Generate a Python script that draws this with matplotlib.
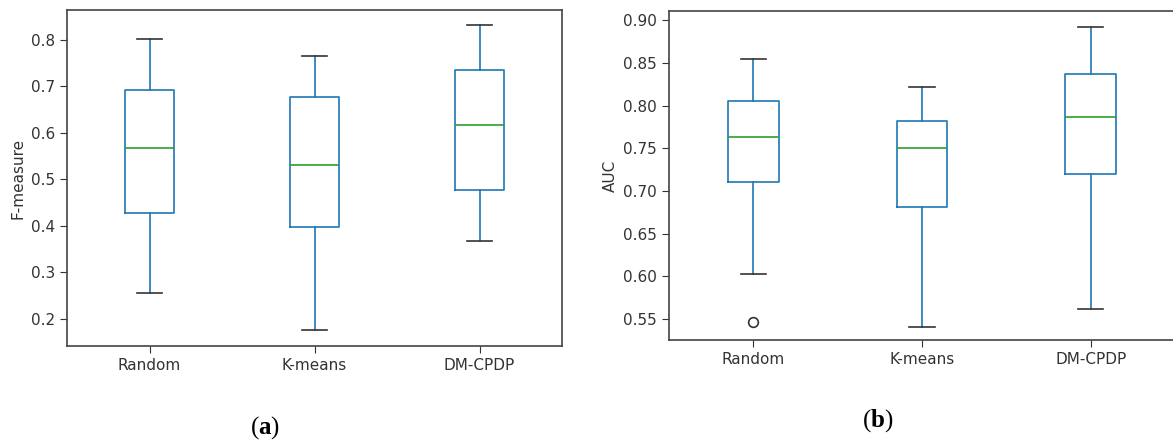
import matplotlib
matplotlib.use("Agg")
import matplotlib.pyplot as plt

plt.rcParams["mathtext.fontset"] = "custom"
plt.rcParams["mathtext.rm"] = "Liberation Serif"
plt.rcParams["mathtext.bf"] = "Liberation Serif:bold"

categories = ["Random", "K-means", "DM-CPDP"]

# F-measure box stats: whislo, q1, med, q3, whishi
f_whislo = [0.255, 0.176, 0.367]
f_q1 = [0.427, 0.397, 0.477]
f_med = [0.567, 0.530, 0.617]
f_q3 = [0.692, 0.676, 0.735]
f_whishi = [0.802, 0.765, 0.832]
f_fliers = [[], [], []]

# AUC box stats
a_whislo = [0.603, 0.541, 0.562]
a_q1 = [0.711, 0.681, 0.720]
a_med = [0.763, 0.750, 0.787]
a_q3 = [0.805, 0.782, 0.837]
a_whishi = [0.855, 0.822, 0.892]
a_fliers = [[0.547], [], []]

W, H = 1173, 444
fig = plt.figure(figsize=(W / 100, H / 100), dpi=100)

def make_stats(lo, q1, med, q3, hi, fl):
    return [dict(label=c, whislo=lo[i], q1=q1[i], med=med[i], q3=q3[i],
                 whishi=hi[i], fliers=fl[i]) for i, c in enumerate(categories)]

def draw(ax, stats):
    ax.bxp(stats, widths=0.3, showfliers=True,
           boxprops=dict(color="#1f77b4", linewidth=1.2),
           whiskerprops=dict(color="#1f77b4", linewidth=1.2),
           capprops=dict(color="#333333", linewidth=1.2),
           medianprops=dict(color="#2ca02c", linewidth=1.2),
           flierprops=dict(marker="o", markerfacecolor="none",
                           markeredgecolor="#333333", markersize=7, markeredgewidth=1.2))
    for s in ax.spines.values():
        s.set_color("#444444")
        s.set_linewidth(1.2)
    ax.tick_params(labelsize=11, colors="#333333", length=5)

def add_axes(x0, y0, x1, y1):
    return fig.add_axes([x0 / W, 1 - y1 / H, (x1 - x0) / W, (y1 - y0) / H])

ax1 = add_axes(67, 10, 562, 346)
draw(ax1, make_stats(f_whislo, f_q1, f_med, f_q3, f_whishi, f_fliers))
ax1.set_ylim(0.142, 0.864)
ax1.set_yticks([0.2, 0.3, 0.4, 0.5, 0.6, 0.7, 0.8])
ax1.set_ylabel("F-measure", fontsize=11, color="#333333")

ax2 = add_axes(669, 11, 1175, 340)
draw(ax2, make_stats(a_whislo, a_q1, a_med, a_q3, a_whishi, a_fliers))
ax2.set_ylim(0.5255, 0.911)
ax2.set_yticks([0.55, 0.60, 0.65, 0.70, 0.75, 0.80, 0.85, 0.90])
ax2.set_yticklabels(["0.55", "0.60", "0.65", "0.70", "0.75", "0.80", "0.85", "0.90"])
ax2.set_ylabel("AUC", fontsize=11, color="#333333")

for x, y, letter in [(265, 428, "a"), (878, 421, "b")]:
    fig.text(x / W, 1 - y / H, r"$\mathrm{(}\mathbf{%s}\mathrm{)}$" % letter, ha="center", va="center",
             fontsize=18)

fig.savefig("out.png", dpi=100)
